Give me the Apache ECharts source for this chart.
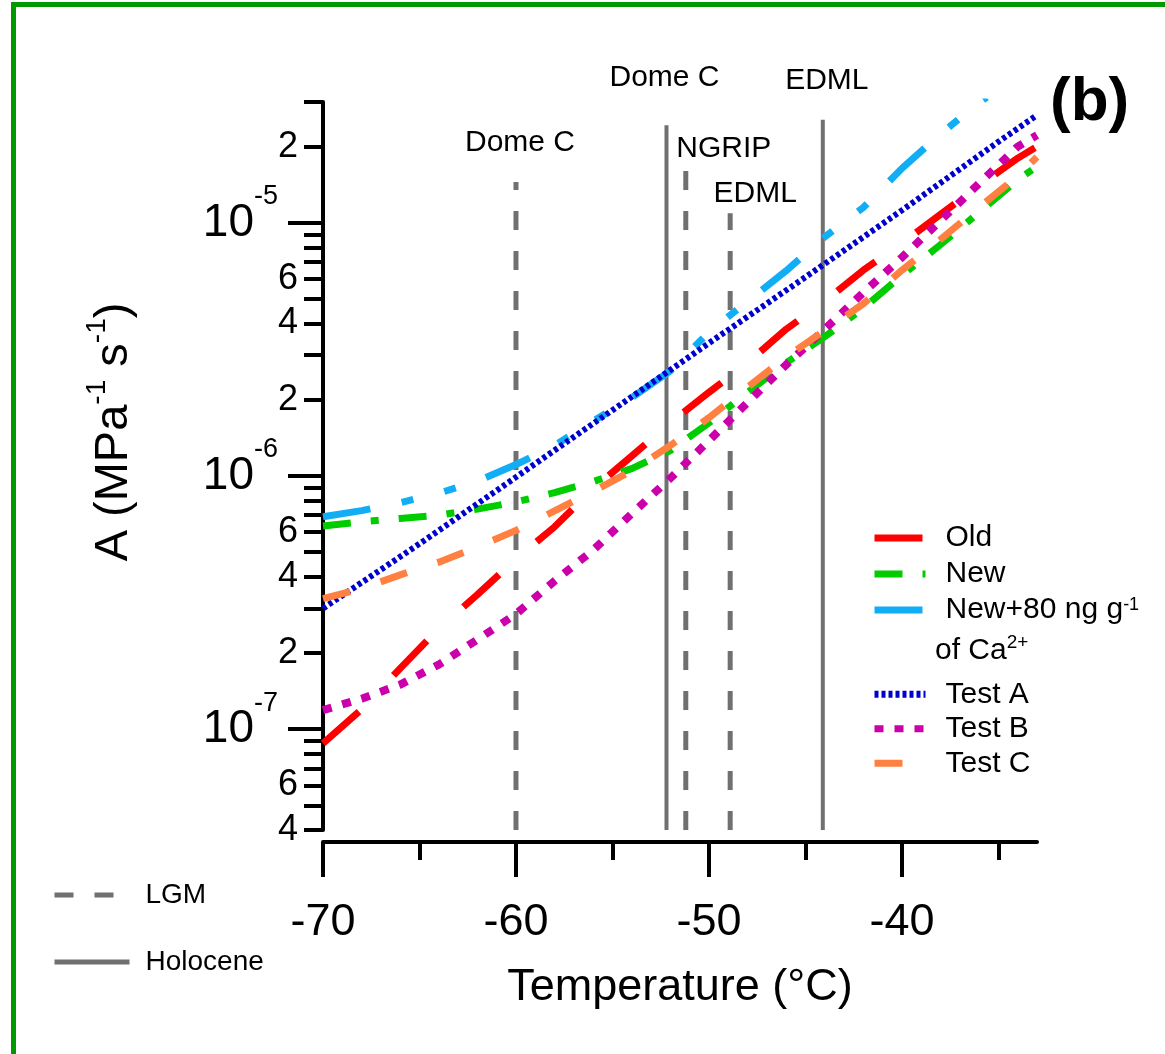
<!DOCTYPE html>
<html><head><meta charset="utf-8">
<script src="https://cdn.jsdelivr.net/npm/echarts@6/dist/echarts.min.js"></script>
<style>html,body{margin:0;padding:0;background:#fff}#c{width:1165px;height:1054px}</style>
</head><body><div id="c"></div>
<script>
// ---------- data (A in MPa^-1 s^-1, temperature in °C) ----------
const tempMain = [-70,-68,-66,-64,-62,-60,-58,-56,-54,-52,-50,-48,-46,-44,-42,-40,-38,-36,-34,-33];
const oldA   = [8.8e-8,1.2e-7,1.74e-7,2.5e-7,3.4e-7,4.7e-7,6.3e-7,8.9e-7,1.2e-6,1.62e-6,2.14e-6,2.8e-6,3.8e-6,4.9e-6,6.5e-6,8.3e-6,1.08e-5,1.4e-5,1.8e-5,2.0e-5];
const newA   = [6.35e-7,6.6e-7,6.8e-7,7.0e-7,7.4e-7,7.9e-7,8.6e-7,9.5e-7,1.07e-6,1.26e-6,1.62e-6,2.14e-6,2.8e-6,3.55e-6,4.6e-6,6.2e-6,8.2e-6,1.1e-5,1.48e-5,1.67e-5];
const testBA = [1.19e-7,1.32e-7,1.5e-7,1.8e-7,2.26e-7,2.85e-7,3.85e-7,5.1e-7,7.1e-7,9.8e-7,1.38e-6,1.95e-6,2.75e-6,3.8e-6,5.3e-6,7.3e-6,1.02e-5,1.43e-5,2.0e-5,2.22e-5];
const testCA = [3.28e-7,3.59e-7,4.07e-7,4.57e-7,5.25e-7,6.1e-7,7.28e-7,8.7e-7,1.05e-6,1.32e-6,1.7e-6,2.24e-6,2.95e-6,3.76e-6,4.79e-6,6.5e-6,8.6e-6,1.15e-5,1.53e-5,1.82e-5];
const tempCa = [-70,-68,-66,-64,-62,-60,-58,-56,-54,-52,-50,-48,-46,-44,-42,-40,-38,-36,-35.6];
const newCaA = [6.9e-7,7.3e-7,7.85e-7,8.55e-7,9.55e-7,1.11e-6,1.32e-6,1.65e-6,2.04e-6,2.6e-6,3.7e-6,4.9e-6,6.46e-6,8.8e-6,1.15e-5,1.64e-5,2.24e-5,2.99e-5,3.13e-5];
const tempTestA = [-70,-65,-60,-55,-50,-45,-40,-35,-33];
const testAA = [3.0e-7,5.4e-7,9.9e-7,1.82e-6,3.35e-6,6.1e-6,1.12e-5,2.09e-5,2.66e-5];

// reference sites (vertical lines)
const siteNames  = ['Dome C','NGRIP','EDML','Dome C','EDML'];
const sitePeriod = ['LGM','LGM','LGM','Holocene','Holocene'];
const siteTemp   = [-60,-51.2,-48.9,-52.2,-44.1];
const siteTopA   = [1.45e-5,1.65e-5,1.09e-5,2.43e-5,2.55e-5];

// axes
const xMin = -70, xMax = -33;
const xMajorTicks = [-70,-60,-50,-40];
const xMinorTicks = [-65,-55,-45,-35];
const aMin = 4e-8, aMax = 3e-5;
const yDecadeTicks = [1e-7,1e-6,1e-5];
const yMinorTicks = [4e-8,5e-8,6e-8,7e-8,8e-8,9e-8,2e-7,3e-7,4e-7,5e-7,6e-7,7e-7,8e-7,9e-7,2e-6,3e-6,4e-6,5e-6,6e-6,7e-6,8e-6,9e-6,2e-5,3e-5];
const yMinorLabels = [4e-8,6e-8,2e-7,4e-7,6e-7,2e-6,4e-6,6e-6,2e-5];

// ---------- chart ----------
const FONT = 'Liberation Sans, Arial, sans-serif';
const lg = Math.log10;
const yMin = lg(aMin), yMax = lg(aMax);
const pairs = (ts, vs) => ts.map((t, i) => [t, lg(vs[i])]);

function curve(name, ts, vs, color, width, dash) {
  return {
    name, type: 'line', data: pairs(ts, vs), symbol: 'none', showSymbol: false,
    color, itemStyle: {color}, silent: true, z: 3,
    lineStyle: {color, width, type: dash, cap: 'butt'}
  };
}

const siteOffsets = [[4,-19],[38,1],[25,1],[-2,-27],[4,-19]];
const siteSeries = siteNames.map((n, i) => ({
  name: sitePeriod[i], type: 'line', silent: true, z: 2,
  symbol: 'circle', symbolSize: 1, showSymbol: true,
  color: '#707070',
  itemStyle: {color: 'rgba(0,0,0,0)'},
  lineStyle: {color: '#707070', width: sitePeriod[i] === 'LGM' ? 5 : 4, type: sitePeriod[i] === 'LGM' ? [19,21] : 'solid', cap: 'butt'},
  data: [
    {value: [siteTemp[i], yMin], label: {show: false}},
    {value: [siteTemp[i], lg(siteTopA[i])], label: {show: true, position: 'top', formatter: n,
      offset: siteOffsets[i], fontSize: 30, color: '#000', fontFamily: FONT}}
  ]
}));

const supRich = (size, pad) => ({fontSize: size, color: '#000', fontFamily: FONT, padding: [0,0,pad,0]});

const option = {
  animation: false,
  backgroundColor: '#fff',
  textStyle: {fontFamily: FONT},
  title: {text: '(b)', left: 1050, top: 72, padding: 0,
    textStyle: {fontSize: 62, fontWeight: 'bold', color: '#000', fontFamily: FONT}},
  grid: {left: 323, right: 128, top: 102, bottom: 224, containLabel: false},
  xAxis: [
    {type: 'value', min: xMin, max: xMax, position: 'bottom', offset: 12,
     axisLine: {show: true, onZero: false, lineStyle: {color: '#000', width: 4}},
     axisTick: {show: true, customValues: xMajorTicks, length: 35, lineStyle: {color: '#000', width: 4}},
     axisLabel: {customValues: xMajorTicks, margin: 58, fontSize: 45, color: '#000', fontFamily: FONT},
     splitLine: {show: false},
     name: 'Temperature (°C)', nameLocation: 'middle', nameGap: 123,
     nameTextStyle: {fontSize: 45, color: '#000', fontFamily: FONT}},
    {type: 'value', min: xMin, max: xMax, position: 'bottom', offset: 12,
     axisLine: {show: false, onZero: false},
     axisTick: {show: true, customValues: xMinorTicks, length: 18, lineStyle: {color: '#000', width: 4}},
     axisLabel: {show: false}, splitLine: {show: false}}
  ],
  yAxis: [
    {type: 'value', min: yMin, max: yMax, position: 'left',
     axisLine: {show: true, onZero: false, lineStyle: {color: '#000', width: 4}},
     axisTick: {show: true, customValues: yDecadeTicks.map(lg), length: 35, lineStyle: {color: '#000', width: 4}},
     axisLabel: {customValues: yDecadeTicks.map(lg), margin: 45,
       formatter: v => '{b|10}{s|' + Math.round(v) + '}',
       rich: {b: {fontSize: 46, color: '#000', fontFamily: FONT}, s: supRich(27, 52)}},
     splitLine: {show: false},
     name: 'A (MPa{s|-1} s{s|-1})', nameLocation: 'middle', nameRotate: 90, nameGap: 178,
     nameTextStyle: {fontSize: 47, color: '#000', fontFamily: FONT, padding: [0,0,0,68],
       rich: {s: supRich(28, 34)}}},
    {type: 'value', min: yMin, max: yMax, position: 'left',
     axisLine: {show: false, onZero: false},
     axisTick: {show: true, customValues: yMinorTicks.map(lg), length: 19, lineStyle: {color: '#000', width: 4}},
     axisLabel: {customValues: yMinorLabels.map(lg), margin: 25, fontSize: 36, color: '#000', fontFamily: FONT,
       formatter: v => '{m|' + Math.round(Math.pow(10, v - Math.floor(v + 1e-9))) + '}',
       rich: {m: {fontSize: 36, color: '#000', fontFamily: FONT}}},
     splitLine: {show: false}}
  ],
  legend: [
    {data: ['Old','New','New+80 ng g-1'], orient: 'vertical', left: 871, top: 520, padding: 0,
     itemWidth: 51, itemHeight: 7, itemGap: 0,
     lineStyle: {width: 7}, itemStyle: {color: 'rgba(0,0,0,0)', borderColor: 'rgba(0,0,0,0)', borderWidth: 0},
     formatter: n => n === 'New+80 ng g-1' ? 'New+80 ng g{s|-1}' : n,
     textStyle: {fontSize: 30, lineHeight: 36, color: '#000', fontFamily: FONT, padding: [0,0,0,15],
       rich: {s: supRich(18, 10)}}},
    {data: ['Test A','Test B','Test C'], orient: 'vertical', left: 871, top: 677, padding: 0,
     itemWidth: 51, itemHeight: 7, itemGap: 0,
     lineStyle: {width: 7}, itemStyle: {color: 'rgba(0,0,0,0)', borderColor: 'rgba(0,0,0,0)', borderWidth: 0},
     textStyle: {fontSize: 30, lineHeight: 34.5, color: '#000', fontFamily: FONT, padding: [0,0,0,15]}},
    {data: ['LGM','Holocene'], orient: 'vertical', left: 52, top: 878, padding: 0,
     itemWidth: 75, itemHeight: 5, itemGap: 33,
     lineStyle: {width: 5}, itemStyle: {color: 'rgba(0,0,0,0)', borderColor: 'rgba(0,0,0,0)', borderWidth: 0},
     textStyle: {fontSize: 28, lineHeight: 34, color: '#000', fontFamily: FONT, padding: [0,0,0,11]}}
  ],
  graphic: [
    {type: 'line', shape: {x1: 13.5, y1: 2, x2: 13.5, y2: 1054}, style: {stroke: '#009900', lineWidth: 5}, silent: true},
    {type: 'line', shape: {x1: 11, y1: 4.5, x2: 1165, y2: 4.5}, style: {stroke: '#009900', lineWidth: 5}, silent: true},
    {type: 'text', left: 935, top: 632, silent: true,
     style: {text: 'of Ca{s|2+}', fontSize: 30, lineHeight: 38, fill: '#000', fontFamily: FONT,
       rich: {s: {fontSize: 19, fill: '#000', fontFamily: FONT, padding: [0,0,16,0]}}}}
  ],
  series: [
    ...siteSeries,
    curve('Old', tempMain, oldA, '#ff0000', 7, [48,50]),
    curve('New', tempMain, newA, '#00cc00', 7, [28,20,8,20]),
    curve('New+80 ng g-1', tempCa, newCaA, '#12aef5', 7, [48,32,12,32,12,32]),
    curve('Test A', tempTestA, testAA, '#0000cc', 6, [4,3]),
    curve('Test B', tempMain, testBA, '#cc00aa', 8, [9,11]),
    curve('Test C', tempMain, testCA, '#ff8040', 7, [28,32])
  ]
};

const chart = echarts.init(document.getElementById('c'), null, {renderer: 'canvas'});
chart.setOption(option);
</script>
</body></html>
